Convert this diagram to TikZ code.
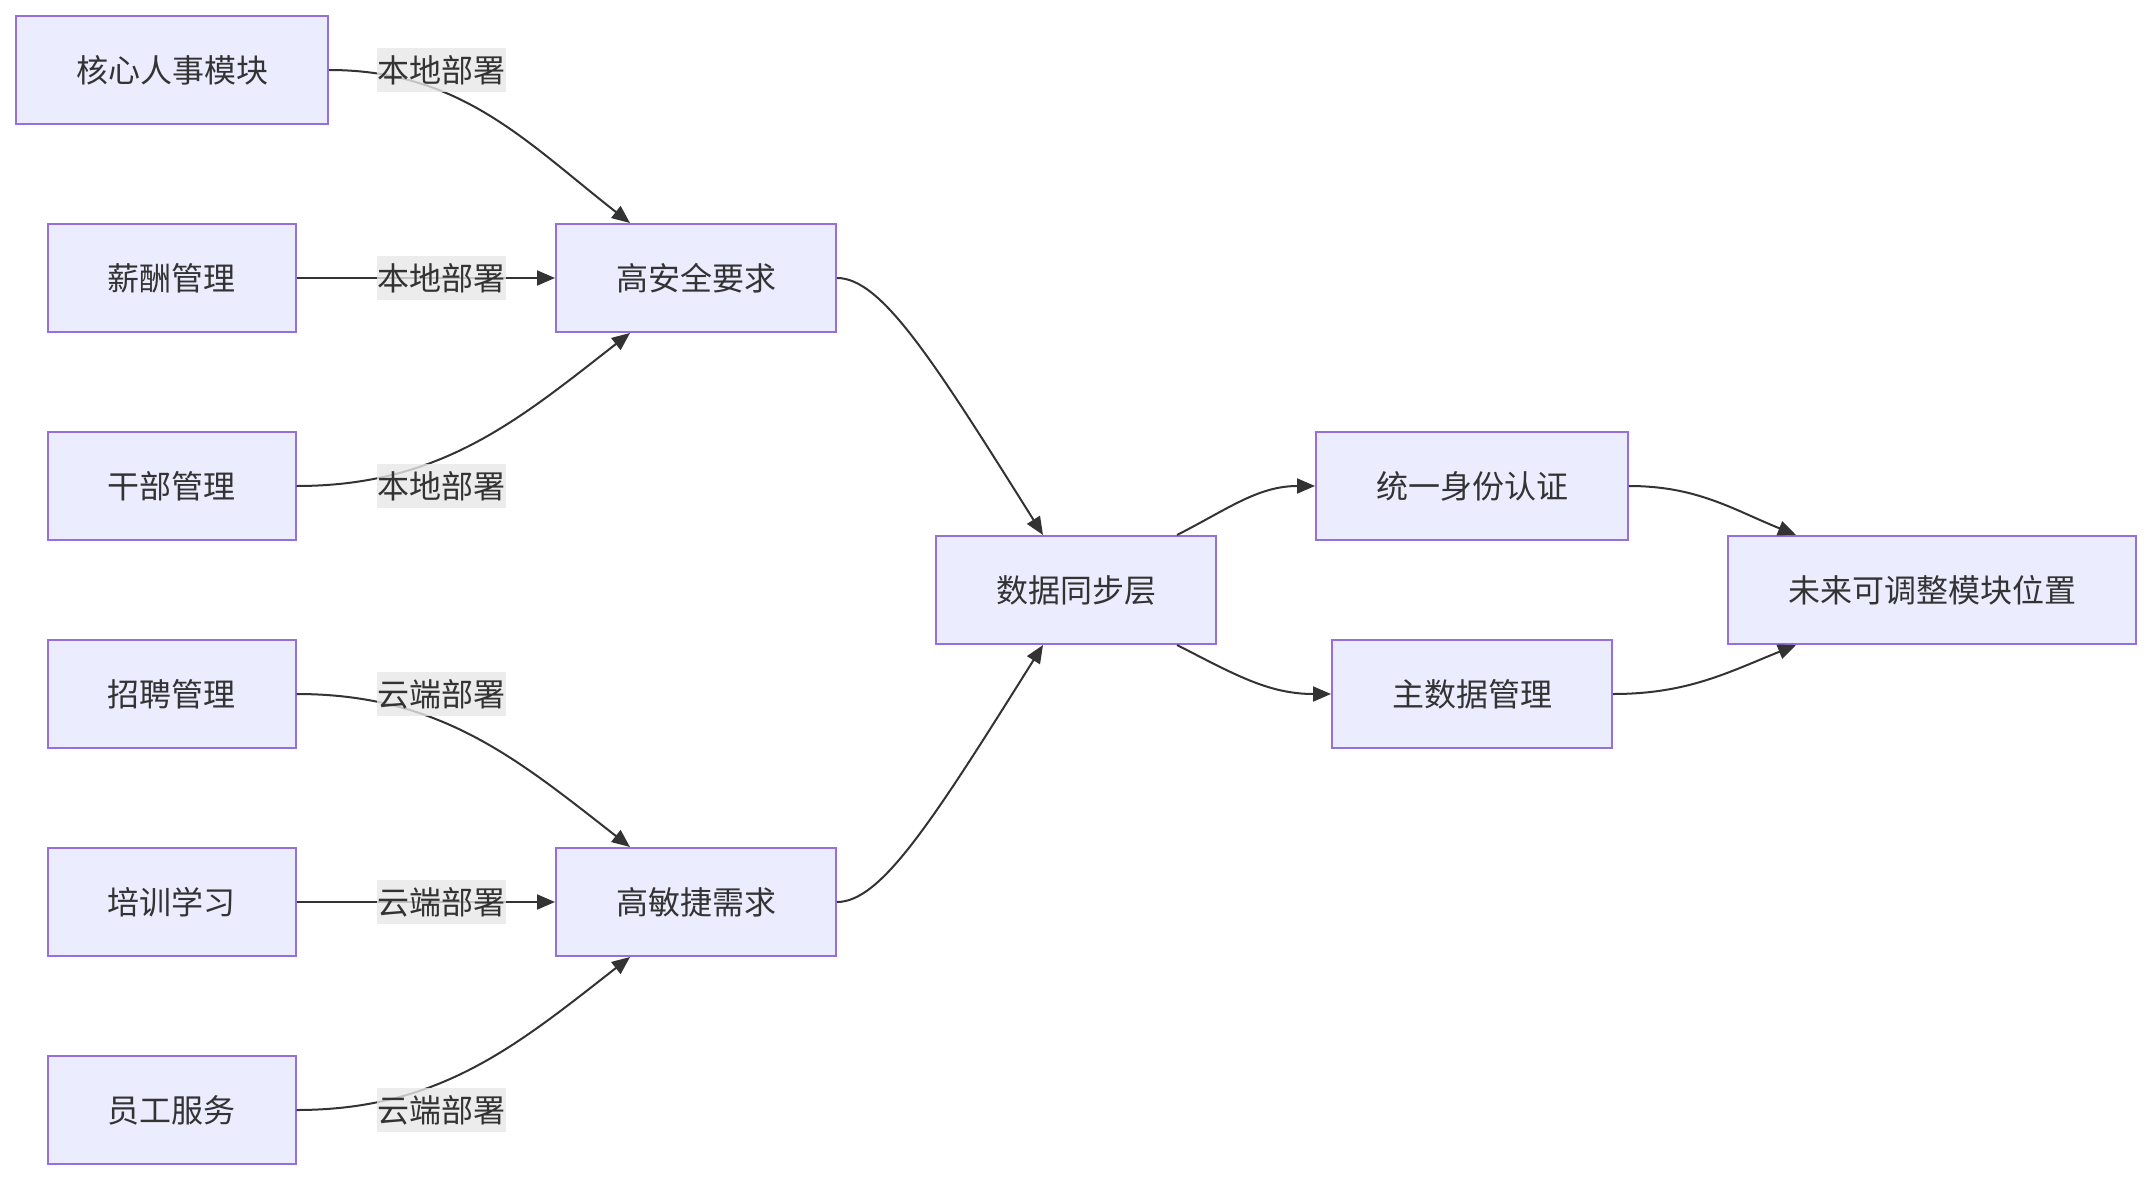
\documentclass[tikz,border=0pt]{standalone}
\usepackage{fontspec}
\setmainfont{Noto Sans CJK SC}
\usetikzlibrary{arrows.meta}
\definecolor{nodefill}{HTML}{ECECFF}
\definecolor{nodeborder}{HTML}{9370DB}
\definecolor{txt}{HTML}{333333}
\definecolor{lblbg}{HTML}{E8E8E8}
\begin{document}
\begin{tikzpicture}[x=1pt,y=1pt,
  box/.style={draw=nodeborder, fill=nodefill, line width=2pt, minimum height=108pt,
    text=txt, font=\fontsize{32}{38}\selectfont, inner sep=0pt},
  lbl/.style={fill=lblbg, fill opacity=0.8, text opacity=1, text=txt,
    font=\fontsize{32}{38}\selectfont, minimum width=129pt, minimum height=44pt, inner sep=0pt},
  edge/.style={draw=txt, line width=2pt, -{Triangle[length=18pt,width=15pt]}}]
\useasboundingbox[fill=white] (0,0) rectangle (2152,-1180);

% nodes
\node[box, minimum width=312pt] (hr) at (172,-70) {核心人事模块};
\node[box, minimum width=248pt] (pay) at (171.5,-278) {薪酬管理};
\node[box, minimum width=248pt] (cadre) at (171.5,-486) {干部管理};
\node[box, minimum width=248pt] (recruit) at (171.5,-694) {招聘管理};
\node[box, minimum width=248pt] (train) at (171.5,-902) {培训学习};
\node[box, minimum width=248pt] (service) at (171.5,-1110) {员工服务};
\node[box, minimum width=280pt] (sec) at (696,-278) {高安全要求};
\node[box, minimum width=280pt] (agile) at (696,-902) {高敏捷需求};
\node[box, minimum width=280pt] (sync) at (1076,-590) {数据同步层};
\node[box, minimum width=312pt] (sso) at (1472,-486) {统一身份认证};
\node[box, minimum width=280pt] (mdm) at (1472,-694) {主数据管理};
\node[box, minimum width=408pt] (future) at (1932,-590) {未来可调整模块位置};

% edges
\draw[edge] (hr.east) to[out=0,in=142] ([xshift=-66pt]sec.north);
\draw[edge] (pay.east) -- (sec.west);
\draw[edge] (cadre.east) to[out=0,in=-142] ([xshift=-66pt]sec.south);
\draw[edge] (recruit.east) to[out=0,in=142] ([xshift=-66pt]agile.north);
\draw[edge] (train.east) -- (agile.west);
\draw[edge] (service.east) to[out=0,in=-142] ([xshift=-66pt]agile.south);
\draw[edge] (sec.east) .. controls +(44,0) and +(-111,177) .. ([xshift=-33pt]sync.north);
\draw[edge] (agile.east) .. controls +(44,0) and +(-111,-177) .. ([xshift=-33pt]sync.south);
\draw[edge] ([xshift=101pt]sync.north) to[out=27,in=180] (sso.west);
\draw[edge] ([xshift=101pt]sync.south) to[out=-27,in=180] (mdm.west);
\draw[edge] (sso.east) to[out=0,in=158] ([xshift=-136pt]future.north);
\draw[edge] (mdm.east) to[out=0,in=-158] ([xshift=-136pt]future.south);

% edge labels
\node[lbl] (l1) at (441.5,-70) {本地部署};
\node[lbl] (l2) at (441.5,-278) {本地部署};
\node[lbl] (l3) at (441.5,-486) {本地部署};
\node[lbl] (l4) at (441.5,-694) {云端部署};
\node[lbl] (l5) at (441.5,-902) {云端部署};
\node[lbl] (l6) at (441.5,-1110) {云端部署};
\end{tikzpicture}
\end{document}
